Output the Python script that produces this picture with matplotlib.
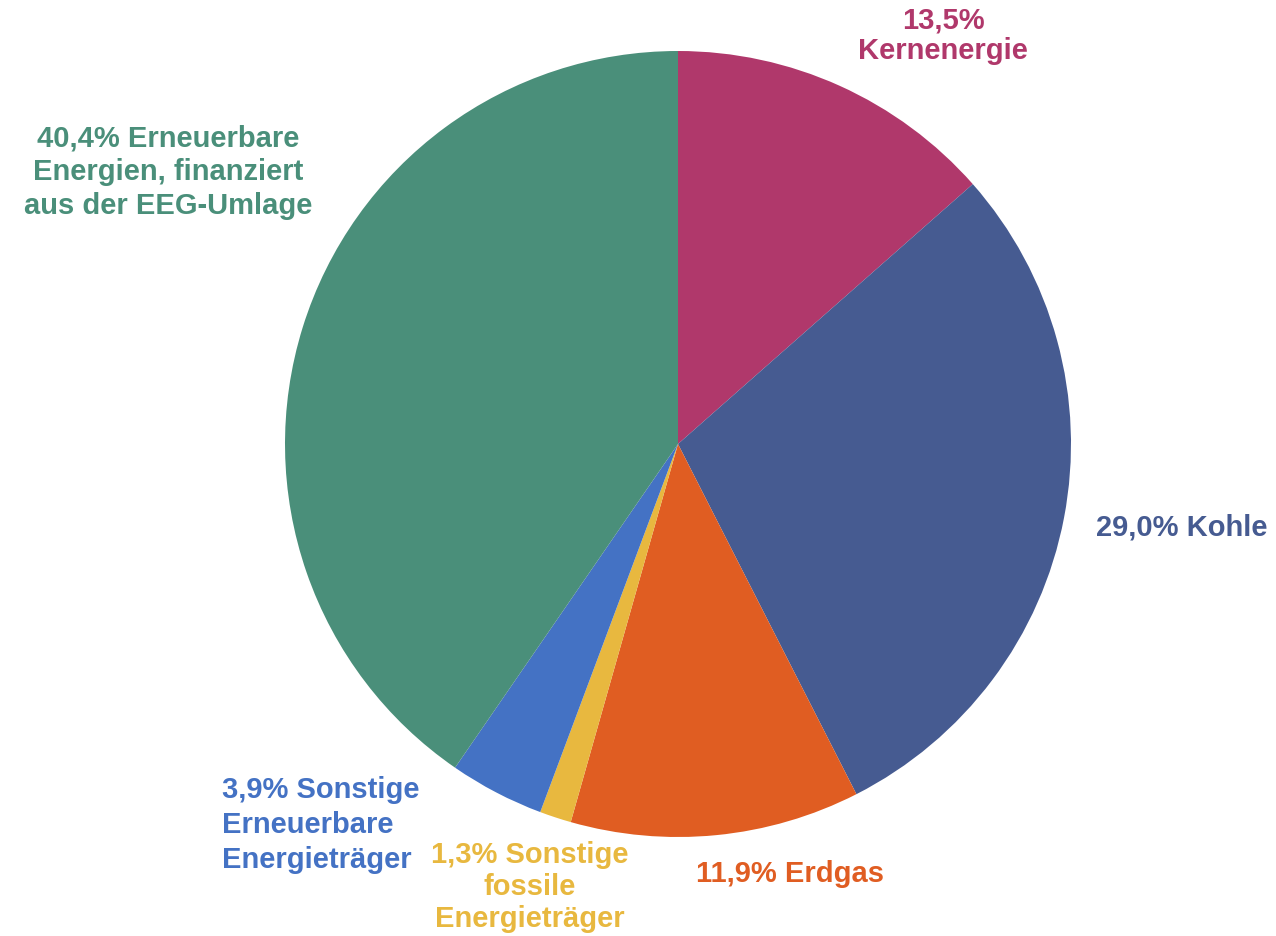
import matplotlib.pyplot as plt

# Strommix data (clockwise from 12 o'clock)
labels = [
    "13,5%\nKernenergie",
    "29,0% Kohle",
    "11,9% Erdgas",
    "1,3% Sonstige\nfossile\nEnergieträger",
    "3,9% Sonstige\nErneuerbare\nEnergieträger",
    "40,4% Erneuerbare\nEnergien, finanziert\naus der EEG-Umlage",
]
shares = [13.5, 29.0, 11.9, 1.3, 3.9, 40.4]
colors = ['#B0386B', '#465B91', '#E05D22', '#E8B83F', '#4472C4', '#4A8F7A']

# label anchor positions in pixel coords (x, y from top), alignment, line spacing
label_pos = [(943, 36), (1182, 527), (790, 874), (530, 887), (222, 825), (168, 172)]
label_ha = ['center', 'center', 'center', 'center', 'left', 'center']
label_ls = [1.13, 1.2, 1.2, 1.19, 1.3, 1.26]

W, H = 1276, 936
fig = plt.figure(figsize=(W / 100, H / 100), dpi=100)
ax = fig.add_axes([0, 0, 1, 1])

ax.pie(shares, colors=colors, startangle=90, counterclock=False,
       center=(678, H - 444), radius=393, frame=True,
       wedgeprops=dict(linewidth=0))
ax.set_xlim(0, W)
ax.set_ylim(0, H)
ax.set_aspect('equal')
ax.axis('off')

for text, (x, y), ha, ls, c in zip(labels, label_pos, label_ha, label_ls, colors):
    ax.text(x, H - y, text, ha=ha, va='center', color=c, fontsize=21,
            fontweight='bold', family='Liberation Sans', linespacing=ls,
            multialignment=ha)

fig.savefig('out.png', dpi=100, facecolor='white')
